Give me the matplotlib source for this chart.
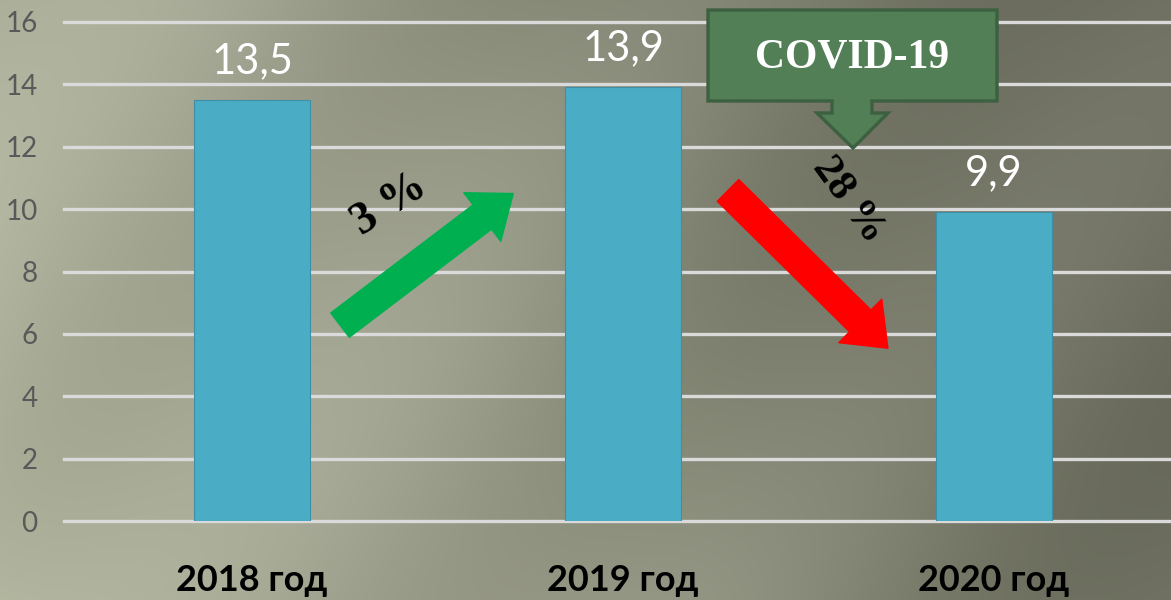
import matplotlib.pyplot as plt
import numpy as np
from matplotlib.patches import Polygon

# data
years = ['2018 год', '2019 год', '2020 год']
values = [13.5, 13.9, 9.9]
value_labels = ['13,5', '13,9', '9,9']
change_labels = ['3 %', '28 %']
yticks = [0, 2, 4, 6, 8, 10, 12, 14, 16]

W, H = 1171, 600
fig = plt.figure(figsize=(W / 100, H / 100), dpi=100)

# gradient background with soft diagonal streaks
bg = fig.add_axes([0, 0, 1, 1], zorder=-1)
yy, xx = np.mgrid[0:H, 0:W]
t = np.clip((xx + 0.25 * (H - yy)) / (W + 0.25 * H), 0, 1) ** 0.85
streak = 0.05 * np.sin((xx + 0.9 * yy) / 90.0) + 0.03 * np.sin((xx - 0.5 * yy) / 160.0)
light = np.array([184, 188, 165]) / 255
dark = np.array([106, 107, 93]) / 255
img = light * (1 - t[..., None]) + dark * t[..., None]
img = np.clip(img + streak[..., None] * 0.5, 0, 1)
bg.imshow(img, aspect='auto', extent=[0, 1, 0, 1])
bg.axis('off')

sans = ['Lato', 'DejaVu Sans']
serif = ['Liberation Serif', 'DejaVu Serif']

ax = fig.add_axes([64 / W, 1 - 521 / H, 1 - 64 / W, (521 - 22) / H])
ax.set_facecolor('none')
x = np.arange(len(years))
ax.bar(x, values, width=0.313, color='#4BACC6', edgecolor='#3E8FA6', linewidth=0.8, zorder=3)
ax.set_xlim(-0.507, 2.477)
ax.set_ylim(0, 16)
ax.set_yticks(yticks)
ax.yaxis.grid(True, color='#DADADA', linewidth=2.4)
for gl in ax.get_ygridlines():
    gl.set_clip_on(False)
ax.set_axisbelow(True)
for s in ax.spines.values():
    s.set_visible(False)

ax.set_xticks(x)
ax.set_xticklabels(years, fontsize=26, fontweight='bold', family=sans, color='black')
ax.tick_params(axis='x', length=0, pad=31)
ax.tick_params(axis='y', length=0, pad=19, labelsize=20, labelcolor='#595959')
for lab in ax.get_yticklabels():
    lab.set_family(sans)

for xi, v, lab in zip(x, values, value_labels):
    ax.annotate(lab, (xi, v), xytext=(0, 28), textcoords='offset points',
                ha='center', va='center', color='white', fontsize=30, family=sans)

# change arrows
style = 'simple,head_length=1.4,head_width=2.2,tail_width=1.1'
ax.annotate('', xy=(0.704, 10.5), xytext=(0.237, 6.28),
            arrowprops=dict(arrowstyle=style, color='#00B050', shrinkA=0, shrinkB=0, mutation_scale=20))
ax.annotate('', xy=(1.714, 5.54), xytext=(1.283, 10.6),
            arrowprops=dict(arrowstyle=style, color='#FF0000', shrinkA=0, shrinkB=0, mutation_scale=20))
ax.text(0.372, 10.13, change_labels[0], rotation=33, ha='center', va='center',
        fontsize=33, fontweight='bold', family=serif, color='black')
ax.text(1.607, 10.29, change_labels[1], rotation=-54, ha='center', va='center',
        fontsize=31, fontweight='bold', family=serif, color='black')

# COVID-19 callout
pts = [(708, 10), (997, 10), (997, 101), (872, 101), (872, 113), (888, 113), (853, 148),
       (817, 113), (832, 113), (832, 101), (708, 101)]
poly = Polygon([(px / W, 1 - py / H) for px, py in pts], closed=True, transform=fig.transFigure,
               facecolor='#527F55', edgecolor='#3D6040', linewidth=2.4, zorder=5)
fig.add_artist(poly)
fig.text(852 / W, 1 - 57 / H, 'COVID-19', ha='center', va='center', color='white',
         fontsize=30, fontweight='bold', family=serif, zorder=6)

fig.savefig('out.png', dpi=100)
